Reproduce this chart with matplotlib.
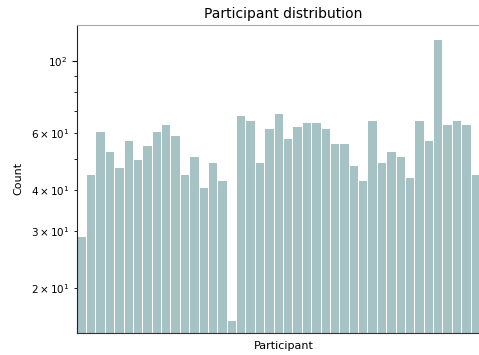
import numpy as np
import matplotlib
matplotlib.use("Agg")
import matplotlib.pyplot as plt

# samples per participant
participants = [f"P{i:02d}" for i in range(1, 44)]
counts = [29, 45, 61, 53, 47, 57, 50, 55, 61, 64, 59, 45, 51, 41, 49, 43,
          16, 68, 66, 49, 62, 69, 58, 63, 65, 65, 62, 56, 56, 48, 43, 66,
          49, 53, 51, 44, 66, 57, 117, 64, 66, 64, 45]

bar_colour = "#a7c2c5"

fig = plt.figure(figsize=(4.79, 3.55), dpi=100)
ax = fig.add_axes([0.160, 0.063, 0.842, 0.867])

x = np.arange(len(participants))
ax.bar(x, counts, width=1.0, color=bar_colour, edgecolor="white", linewidth=0.7)

ax.set_yscale("log")
ax.set_ylim(14.6, 129)
ax.set_xlim(-0.5, len(participants) - 0.5)
ax.set_xticks([])

ax.set_title("Participant distribution", fontsize=10, pad=5, x=0.513)
ax.set_xlabel("Participant", fontsize=8, labelpad=6, x=0.513)
ax.set_ylabel("Count", fontsize=8, labelpad=5)
ax.tick_params(axis="y", which="both", labelsize=7.5)

ax.spines["top"].set_color("#aaaaaa")
ax.spines["right"].set_visible(False)
ax.spines["left"].set_color("#222222")
ax.spines["bottom"].set_color("#333333")

fig.savefig("out.png", dpi=100)
